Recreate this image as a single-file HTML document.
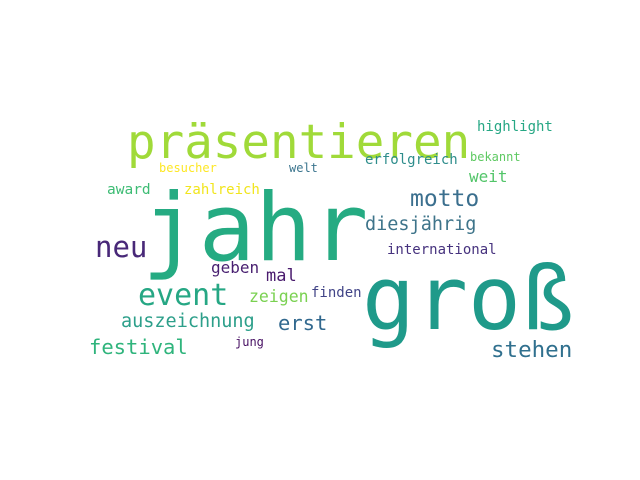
<!DOCTYPE html>
<html><head><meta charset="utf-8"><style>
html,body{margin:0;padding:0;background:#fff;width:640px;height:480px;overflow:hidden}
text{font-family:"DejaVu Sans Mono","Liberation Mono",monospace}
</style></head><body>
<svg width="640" height="480">
<g id="words"></g>
</svg>
<script>
const words=["jahr","präsentieren","groß","neu","event","motto","diesjährig","stehen","festival","auszeichnung","erst","zeigen","geben","mal","finden","international","highlight","erfolgreich","weit","bekannt","welt","besucher","award","zahlreich","jung"];
const sizes=[94,47.5,88,29,30,23,18.5,22.5,20.5,18.5,20.5,16.5,16,17,14,14,14,14,16,12,12,12,14.5,14,12];
const xs=[142,127,362,95,138,410,365,491,89,121,278,249,211,266,311,387,477,365,469,470,289,159,107,184,235];
const ys=[260,158,329,257,305,206,230,357,354,327,330,302,273,281,297,254,131,164,182,161,172,172,194,194,346];
const colors=["#25ab82","#a0da39","#1f9a8a","#482878","#26a784","#3b6f8e","#3e748a","#30708e","#2fb47c","#2c9f8a","#31688e","#7ad151","#481f70","#4a1c6e","#414487","#46327e","#26a784","#2e8d8c","#52c569","#5ec962","#3b758e","#fde725","#3dbc74","#f1e51d","#471063"];
const g=document.getElementById('words');
words.forEach((w,i)=>{
  const t=document.createElementNS('http://www.w3.org/2000/svg','text');
  t.setAttribute('x',xs[i]);t.setAttribute('y',ys[i]);
  t.setAttribute('font-size',sizes[i]);t.setAttribute('fill',colors[i]);
  t.textContent=w;
  
  
  g.appendChild(t);
});
</script>
</body></html>
